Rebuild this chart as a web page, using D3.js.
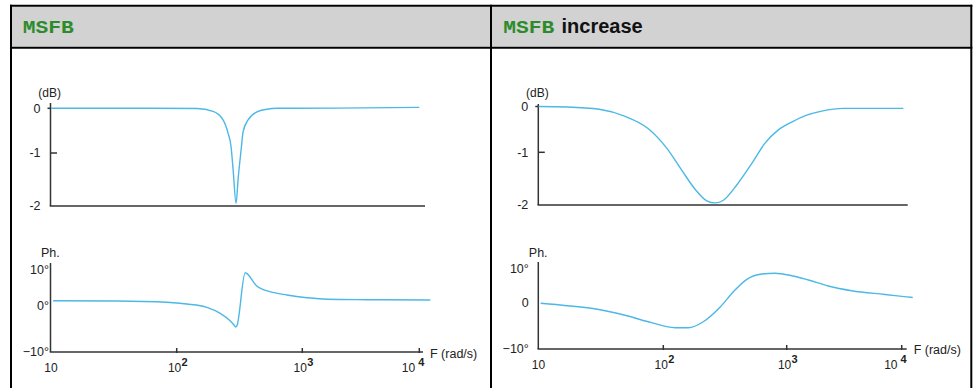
<!DOCTYPE html>
<html>
<head>
<meta charset="utf-8">
<script src="https://cdn.jsdelivr.net/npm/d3@7"></script>
<style>
  html, body { margin: 0; padding: 0; background: #fff; }
  svg { display: block; }
  text { font-family: Arial, "Liberation Sans", sans-serif; fill: #222; }
</style>
</head>
<body>
<svg id="chart" width="973" height="388"></svg>
<script>
// ---------- data ----------
const headerCode = "MSFB";
const headerRightSuffix = "increase";

const freqTicks = [10, 100, 1000, 10000];
const freqTickExponents = ["", "2", "3", "4"];

const dbTicks = [0, -1, -2];
const dbTickLabels = ["0", "-1", "-2"];
const phaseTicks = [10, 0, -10];
const leftPhaseLabels = ["10\u00b0", "0\u00b0", "\u221210\u00b0"];
const rightPhaseLabels = ["10\u00b0", "0", "\u221210\u00b0"];

const leftMagFreq = [10, 60, 145, 195, 234, 256, 271, 281, 297, 308, 326, 338, 370, 436, 524, 630, 2000, 10000];
const leftMagDb   = [0, 0, -0.005, -0.07, -0.26, -0.55, -0.86, -1.3, -1.95, -1.5, -0.92, -0.52, -0.26, -0.08, -0.02, 0, 0.005, 0.02];

const leftPhaseFreq = [10.4, 33, 83, 120, 174, 222, 266, 286, 295, 302, 351, 434, 554, 755, 1097, 1626, 3573, 12420];
const leftPhaseDeg  = [1.35, 1.27, 0.9, 0.42, -0.39, -1.68, -3.27, -4.2, -4.62, -4.3, 9.24, 5.49, 3.89, 2.96, 2.2, 1.75, 1.63, 1.55];

const rightMagFreq = [10, 17, 30.7, 48.9, 75.5, 106.6, 141, 181, 225, 263, 307, 394, 522, 667, 856, 1105, 1492, 2015, 3106, 10330];
const rightMagDb   = [0, -0.01, -0.06, -0.21, -0.48, -0.91, -1.34, -1.70, -1.92, -1.96, -1.91, -1.62, -1.21, -0.80, -0.51, -0.34, -0.19, -0.10, -0.04, -0.04];

const rightPhaseFreq = [10.4, 17, 29.7, 52, 80.5, 124.4, 159.5, 211, 288, 370, 475, 627, 804, 1105, 1542, 2301, 3675, 7160, 11040, 12470];
const rightPhaseDeg  = [-0.07, -0.59, -1.37, -2.83, -4.28, -5.37, -5.37, -4.07, -0.93, 3.32, 6.97, 8.53, 8.74, 8.03, 6.76, 5.0, 3.6, 2.5, 1.8, 1.6];

// ---------- layout ----------
const W = 973, H = 388;
const curveColor = "#4cb8e6";
const axisColor = "#333";

const panels = [
  {
    magF: leftMagFreq, magV: leftMagDb, phF: leftPhaseFreq, phV: leftPhaseDeg,
    phaseLabels: leftPhaseLabels,
    xRange: [51, 176.7, 302.3, 419.3],
    axisX: 50.5,
    magY: [206, 153, 108.3], magTop: 103, magXEnd: 425,
    phY: [352, 305.5, 270], phTop: 263, phXEnd: 423,
    phLabelDx: -1.5, fLabelDy: 5.5
  },
  {
    magF: rightMagFreq, magV: rightMagDb, phF: rightPhaseFreq, phV: rightPhaseDeg,
    phaseLabels: rightPhaseLabels,
    xRange: [538.5, 663.3, 786.7, 901.7],
    axisX: 538.3,
    magY: [205, 152.3, 106.5], magTop: 104, magXEnd: 907.7,
    phY: [349, 303, 269], phTop: 262, phXEnd: 906.7,
    phLabelDx: -9.5, fLabelDy: 5
  }
];

const svg = d3.select("#chart");
svg.append("rect").attr("width", W).attr("height", H).attr("fill", "#fff");

// ---------- table frame ----------
svg.append("rect").attr("x", 11).attr("y", 6.7).attr("width", 960).attr("height", 40).attr("fill", "#d2d2d2");
const frame = svg.append("g").attr("stroke", "#000").attr("stroke-width", 2).attr("fill", "none");
frame.append("line").attr("x1", 10).attr("x2", 972.3).attr("y1", 5.7).attr("y2", 5.7);
frame.append("line").attr("x1", 10).attr("x2", 972.3).attr("y1", 47.7).attr("y2", 47.7);
frame.append("line").attr("x1", 11).attr("x2", 11).attr("y1", 4.7).attr("y2", H);
frame.append("line").attr("x1", 491).attr("x2", 491).attr("y1", 4.7).attr("y2", H);
frame.append("line").attr("x1", 971.3).attr("x2", 971.3).attr("y1", 4.7).attr("y2", H);

// headers
function codeText(x, y) {
  svg.append("text").attr("x", x).attr("y", y)
    .attr("textLength", 51).attr("lengthAdjust", "spacingAndGlyphs")
    .style("font-family", "'Liberation Mono', 'Courier New', monospace")
    .style("font-weight", "bold").style("font-size", "19px").style("fill", "#2c8c2c")
    .text(headerCode);
}
codeText(22.7, 32.5);
codeText(503.3, 32.5);
svg.append("text").attr("x", 561.5).attr("y", 33.3)
  .style("font-weight", "bold").style("font-size", "20px").style("fill", "#111")
  .text(headerRightSuffix);

// ---------- plots ----------
panels.forEach(p => {
  const x = d3.scaleLog().domain(freqTicks).range(p.xRange);
  const yMag = d3.scaleLinear().domain([-2, -1, 0]).range(p.magY);
  const yPh = d3.scaleLinear().domain([-10, 0, 10]).range(p.phY);
  const g = svg.append("g");

  // --- magnitude plot ---
  const ax = g.append("g").attr("stroke", axisColor).attr("stroke-width", 1.5).attr("fill", "none");
  ax.append("line").attr("x1", p.axisX).attr("x2", p.axisX).attr("y1", p.magTop).attr("y2", yMag(-2));
  ax.append("line").attr("x1", p.axisX - 0.75).attr("x2", p.magXEnd).attr("y1", yMag(-2)).attr("y2", yMag(-2));
  ax.append("line").attr("x1", p.axisX - 3).attr("x2", p.axisX).attr("y1", yMag(0)).attr("y2", yMag(0));
  ax.append("line").attr("x1", p.axisX).attr("x2", p.axisX + 6.5).attr("y1", yMag(-1)).attr("y2", yMag(-1));

  g.append("text").attr("x", p.axisX - 12.2).attr("y", 96.7).style("font-size", "12px").text("(dB)");
  g.selectAll(".dbl").data(dbTicks).enter().append("text")
    .attr("x", p.axisX - 10).attr("y", d => yMag(d)).attr("dy", "0.35em")
    .attr("text-anchor", "end").style("font-size", "12.5px")
    .text((d, i) => dbTickLabels[i]);

  const magLine = d3.line().x(d => x(d[0])).y(d => yMag(d[1])).curve(d3.curveMonotoneX);
  g.append("path").datum(p.magF.map((f, i) => [f, p.magV[i]]))
    .attr("d", magLine).attr("fill", "none").attr("stroke", curveColor).attr("stroke-width", 1.4);

  // --- phase plot ---
  const ax2 = g.append("g").attr("stroke", axisColor).attr("stroke-width", 1.5).attr("fill", "none");
  ax2.append("line").attr("x1", p.axisX).attr("x2", p.axisX).attr("y1", p.phTop).attr("y2", yPh(-10));
  ax2.append("line").attr("x1", p.axisX - 0.75).attr("x2", p.phXEnd).attr("y1", yPh(-10)).attr("y2", yPh(-10));
  ax2.selectAll(".xt").data(freqTicks.slice(1)).enter().append("line")
    .attr("x1", d => x(d)).attr("x2", d => x(d))
    .attr("y1", yPh(-10) - 4).attr("y2", yPh(-10) + 1);

  g.append("text").attr("x", p.axisX - 9.5).attr("y", 257).style("font-size", "12.5px").text("Ph.");
  g.selectAll(".phl").data(phaseTicks).enter().append("text")
    .attr("x", p.axisX + p.phLabelDx).attr("y", d => yPh(d)).attr("dy", "0.35em")
    .attr("text-anchor", "end").style("font-size", "12.5px")
    .text((d, i) => p.phaseLabels[i]);

  // x tick labels
  const baseY = yPh(-10) + 20;
  freqTicks.forEach((t, i) => {
    const tx = x(t);
    const exp = freqTickExponents[i];
    if (!exp) {
      g.append("text").attr("x", tx).attr("y", baseY).attr("text-anchor", "middle")
        .style("font-size", "12px").text("10");
      return;
    }
    const last = i === freqTicks.length - 1;
    const txt = g.append("text").attr("x", last ? tx - 17.5 : tx - 8.8).attr("y", baseY)
      .style("font-size", "12px");
    txt.append("tspan").text("10");
    txt.append("tspan").attr("dx", last ? 3 : 0.3).attr("dy", -6.5)
      .style("font-size", "11px").style("font-weight", "bold").text(exp);
  });

  g.append("text").attr("x", p.phXEnd + 7).attr("y", yPh(-10) + p.fLabelDy)
    .style("font-size", "12.5px").text("F (rad/s)");

  const phLine = d3.line().x(d => x(d[0])).y(d => yPh(d[1])).curve(d3.curveMonotoneX);
  g.append("path").datum(p.phF.map((f, i) => [f, p.phV[i]]))
    .attr("d", phLine).attr("fill", "none").attr("stroke", curveColor).attr("stroke-width", 1.4);
});
</script>
</body>
</html>
